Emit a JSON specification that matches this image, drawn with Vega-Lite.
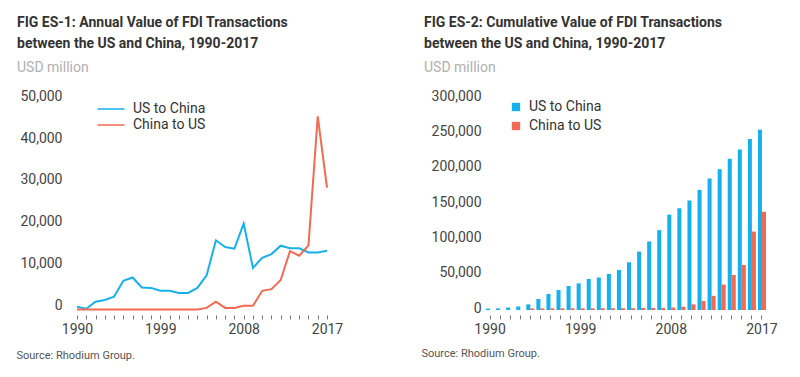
{
  "$schema": "https://vega.github.io/schema/vega-lite/v6.json",
  "background": "white",
  "padding": {"left": 16, "top": 16, "right": 5, "bottom": 5},
  "config": {
    "font": "Roboto",
    "view": {"stroke": null},
    "axis": {"labelFont": "Roboto", "labelFontSize": 14, "labelColor": "#444", "grid": false, "domain": false},
    "legend": {"labelFont": "Roboto", "labelFontSize": 14, "labelColor": "#333"}
  },
  "resolve": {"legend": {"color": "independent"}, "scale": {"color": "independent"}},
  "datasets": {
    "annual": [
      {"year": 1990, "series": "US to China", "value": 800},
      {"year": 1991, "series": "US to China", "value": 300},
      {"year": 1992, "series": "US to China", "value": 2000},
      {"year": 1993, "series": "US to China", "value": 2400},
      {"year": 1994, "series": "US to China", "value": 3200},
      {"year": 1995, "series": "US to China", "value": 7000},
      {"year": 1996, "series": "US to China", "value": 7800},
      {"year": 1997, "series": "US to China", "value": 5400},
      {"year": 1998, "series": "US to China", "value": 5300},
      {"year": 1999, "series": "US to China", "value": 4600},
      {"year": 2000, "series": "US to China", "value": 4600},
      {"year": 2001, "series": "US to China", "value": 4100},
      {"year": 2002, "series": "US to China", "value": 4100},
      {"year": 2003, "series": "US to China", "value": 5300},
      {"year": 2004, "series": "US to China", "value": 8300},
      {"year": 2005, "series": "US to China", "value": 16700},
      {"year": 2006, "series": "US to China", "value": 15100},
      {"year": 2007, "series": "US to China", "value": 14700},
      {"year": 2008, "series": "US to China", "value": 20700},
      {"year": 2009, "series": "US to China", "value": 10100},
      {"year": 2010, "series": "US to China", "value": 12500},
      {"year": 2011, "series": "US to China", "value": 13400},
      {"year": 2012, "series": "US to China", "value": 15400},
      {"year": 2013, "series": "US to China", "value": 14800},
      {"year": 2014, "series": "US to China", "value": 14800},
      {"year": 2015, "series": "US to China", "value": 13800},
      {"year": 2016, "series": "US to China", "value": 13800},
      {"year": 2017, "series": "US to China", "value": 14200},
      {"year": 1990, "series": "China to US", "value": 100},
      {"year": 1991, "series": "China to US", "value": 100},
      {"year": 1992, "series": "China to US", "value": 100},
      {"year": 1993, "series": "China to US", "value": 100},
      {"year": 1994, "series": "China to US", "value": 100},
      {"year": 1995, "series": "China to US", "value": 100},
      {"year": 1996, "series": "China to US", "value": 100},
      {"year": 1997, "series": "China to US", "value": 100},
      {"year": 1998, "series": "China to US", "value": 100},
      {"year": 1999, "series": "China to US", "value": 100},
      {"year": 2000, "series": "China to US", "value": 100},
      {"year": 2001, "series": "China to US", "value": 100},
      {"year": 2002, "series": "China to US", "value": 100},
      {"year": 2003, "series": "China to US", "value": 100},
      {"year": 2004, "series": "China to US", "value": 500},
      {"year": 2005, "series": "China to US", "value": 2000},
      {"year": 2006, "series": "China to US", "value": 500},
      {"year": 2007, "series": "China to US", "value": 500},
      {"year": 2008, "series": "China to US", "value": 1000},
      {"year": 2009, "series": "China to US", "value": 1000},
      {"year": 2010, "series": "China to US", "value": 4600},
      {"year": 2011, "series": "China to US", "value": 5000},
      {"year": 2012, "series": "China to US", "value": 7200},
      {"year": 2013, "series": "China to US", "value": 14100},
      {"year": 2014, "series": "China to US", "value": 13000},
      {"year": 2015, "series": "China to US", "value": 15500},
      {"year": 2016, "series": "China to US", "value": 46400},
      {"year": 2017, "series": "China to US", "value": 29300}
    ],
    "cumulative": [
      {"year": 1990, "series": "US to China", "value": 2000},
      {"year": 1991, "series": "US to China", "value": 2300},
      {"year": 1992, "series": "US to China", "value": 3500},
      {"year": 1993, "series": "US to China", "value": 5000},
      {"year": 1994, "series": "US to China", "value": 8000},
      {"year": 1995, "series": "US to China", "value": 15600},
      {"year": 1996, "series": "US to China", "value": 22700},
      {"year": 1997, "series": "US to China", "value": 28300},
      {"year": 1998, "series": "US to China", "value": 34000},
      {"year": 1999, "series": "US to China", "value": 37700},
      {"year": 2000, "series": "US to China", "value": 44000},
      {"year": 2001, "series": "US to China", "value": 46000},
      {"year": 2002, "series": "US to China", "value": 51000},
      {"year": 2003, "series": "US to China", "value": 56700},
      {"year": 2004, "series": "US to China", "value": 67500},
      {"year": 2005, "series": "US to China", "value": 82600},
      {"year": 2006, "series": "US to China", "value": 97000},
      {"year": 2007, "series": "US to China", "value": 113000},
      {"year": 2008, "series": "US to China", "value": 135000},
      {"year": 2009, "series": "US to China", "value": 144000},
      {"year": 2010, "series": "US to China", "value": 155000},
      {"year": 2011, "series": "US to China", "value": 170000},
      {"year": 2012, "series": "US to China", "value": 186000},
      {"year": 2013, "series": "US to China", "value": 199000},
      {"year": 2014, "series": "US to China", "value": 214000},
      {"year": 2015, "series": "US to China", "value": 227000},
      {"year": 2016, "series": "US to China", "value": 242000},
      {"year": 2017, "series": "US to China", "value": 255000},
      {"year": 1990, "series": "China to US", "value": 0},
      {"year": 1991, "series": "China to US", "value": 0},
      {"year": 1992, "series": "China to US", "value": 0},
      {"year": 1993, "series": "China to US", "value": 0},
      {"year": 1994, "series": "China to US", "value": 2300},
      {"year": 1995, "series": "China to US", "value": 2300},
      {"year": 1996, "series": "China to US", "value": 2300},
      {"year": 1997, "series": "China to US", "value": 2400},
      {"year": 1998, "series": "China to US", "value": 2400},
      {"year": 1999, "series": "China to US", "value": 2400},
      {"year": 2000, "series": "China to US", "value": 2400},
      {"year": 2001, "series": "China to US", "value": 2500},
      {"year": 2002, "series": "China to US", "value": 2500},
      {"year": 2003, "series": "China to US", "value": 2500},
      {"year": 2004, "series": "China to US", "value": 2500},
      {"year": 2005, "series": "China to US", "value": 3000},
      {"year": 2006, "series": "China to US", "value": 3000},
      {"year": 2007, "series": "China to US", "value": 3000},
      {"year": 2008, "series": "China to US", "value": 3500},
      {"year": 2009, "series": "China to US", "value": 4700},
      {"year": 2010, "series": "China to US", "value": 8000},
      {"year": 2011, "series": "China to US", "value": 12700},
      {"year": 2012, "series": "China to US", "value": 20000},
      {"year": 2013, "series": "China to US", "value": 36000},
      {"year": 2014, "series": "China to US", "value": 49600},
      {"year": 2015, "series": "China to US", "value": 63800},
      {"year": 2016, "series": "China to US", "value": 111000},
      {"year": 2017, "series": "China to US", "value": 139000}
    ]
  },
  "spacing": 78,
  "hconcat": [
    {
      "width": 250,
      "height": 212,
      "title": {
        "text": ["FIG ES-1: Annual Value of FDI Transactions", "between the US and China, 1990-2017"],
        "subtitle": "USD million",
        "anchor": "start",
        "frame": "group",
        "dx": -60,
        "font": "Roboto",
        "fontSize": 14,
        "fontWeight": "bold",
        "color": "#333",
        "lineHeight": 21,
        "subtitleFont": "Roboto",
        "subtitleFontSize": 14,
        "subtitleColor": "#b0b0b0",
        "subtitlePadding": 10,
        "offset": 14
      },
      "data": {"name": "annual"},
      "mark": {"type": "line", "strokeWidth": 2},
      "encoding": {
        "x": {
          "field": "year",
          "type": "quantitative",
          "scale": {"domain": [1990, 2017], "nice": false, "zero": false},
          "axis": {
            "values": [1990, 1991, 1992, 1993, 1994, 1995, 1996, 1997, 1998, 1999, 2000, 2001, 2002, 2003, 2004, 2005, 2006, 2007, 2008, 2009, 2010, 2011, 2012, 2013, 2014, 2015, 2016, 2017],
            "labelExpr": "(datum.value - 1990) % 9 === 0 ? '' + datum.value : ''",
            "labelOverlap": false,
            "labelFlush": false,
            "tickSize": 4,
            "tickColor": "#777",
            "tickWidth": 1,
            "offset": 5,
            "labelPadding": 3,
            "title": "Source: Rhodium Group.",
            "titleAnchor": "start",
            "titleAlign": "left",
            "titleBaseline": "middle",
            "titleX": -61,
            "titleY": 40,
            "titleFont": "Roboto",
            "titleFontSize": 11,
            "titleFontWeight": "normal",
            "titleColor": "#555"
          }
        },
        "y": {
          "field": "value",
          "type": "quantitative",
          "scale": {"domain": [0, 50800], "nice": false},
          "axis": {"values": [0, 10000, 20000, 30000, 40000, 50000], "format": ",d", "ticks": false, "labelPadding": 15, "labelOffset": -5, "title": null}
        },
        "color": {
          "field": "series",
          "type": "nominal",
          "scale": {"domain": ["US to China", "China to US"], "range": ["#16b1ec", "#f26a52"]},
          "legend": {
            "title": null,
            "orient": "none",
            "legendX": 27,
            "legendY": 4,
            "symbolType": "M-3,0H3",
            "symbolSize": 81,
            "symbolStrokeWidth": 1.5,
            "symbolFillColor": "transparent",
            "labelOffset": 15,
            "rowPadding": 2
          }
        }
      }
    },
    {
      "width": 282,
      "height": 212,
      "title": {
        "text": ["FIG ES-2: Cumulative Value of FDI Transactions", "between the US and China, 1990-2017"],
        "subtitle": "USD million",
        "anchor": "start",
        "frame": "group",
        "dx": -61,
        "font": "Roboto",
        "fontSize": 14,
        "fontWeight": "bold",
        "color": "#333",
        "lineHeight": 21,
        "subtitleFont": "Roboto",
        "subtitleFontSize": 14,
        "subtitleColor": "#b0b0b0",
        "subtitlePadding": 10,
        "offset": 14
      },
      "data": {"name": "cumulative"},
      "mark": {"type": "bar"},
      "encoding": {
        "x": {
          "field": "year",
          "type": "ordinal",
          "scale": {"paddingInner": 0.2, "paddingOuter": 0.1},
          "axis": {
            "labelAngle": 0,
            "labelExpr": "(+datum.value - 1990) % 9 === 0 ? datum.label : ''",
            "labelOverlap": false,
            "tickSize": 4,
            "tickColor": "#777",
            "tickWidth": 1,
            "offset": 5,
            "labelPadding": 3,
            "title": "Source: Rhodium Group.",
            "titleAnchor": "start",
            "titleAlign": "left",
            "titleBaseline": "middle",
            "titleX": -64,
            "titleY": 38,
            "titleFont": "Roboto",
            "titleFontSize": 11,
            "titleFontWeight": "normal",
            "titleColor": "#555"
          }
        },
        "xOffset": {"field": "series", "type": "nominal", "sort": ["US to China", "China to US"]},
        "y": {
          "field": "value",
          "type": "quantitative",
          "scale": {"domain": [0, 300000], "nice": false},
          "axis": {"values": [0, 50000, 100000, 150000, 200000, 250000, 300000], "format": ",d", "ticks": false, "labelPadding": 4, "labelOffset": -2, "title": null}
        },
        "color": {
          "field": "series",
          "type": "nominal",
          "scale": {"domain": ["US to China", "China to US"], "range": ["#16b1ec", "#f26a52"]},
          "legend": {
            "title": null,
            "orient": "none",
            "legendX": 24,
            "legendY": 2,
            "symbolType": "square",
            "symbolSize": 70,
            "symbolStrokeWidth": 0,
            "labelOffset": 6,
            "rowPadding": 5
          }
        }
      }
    }
  ]
}
